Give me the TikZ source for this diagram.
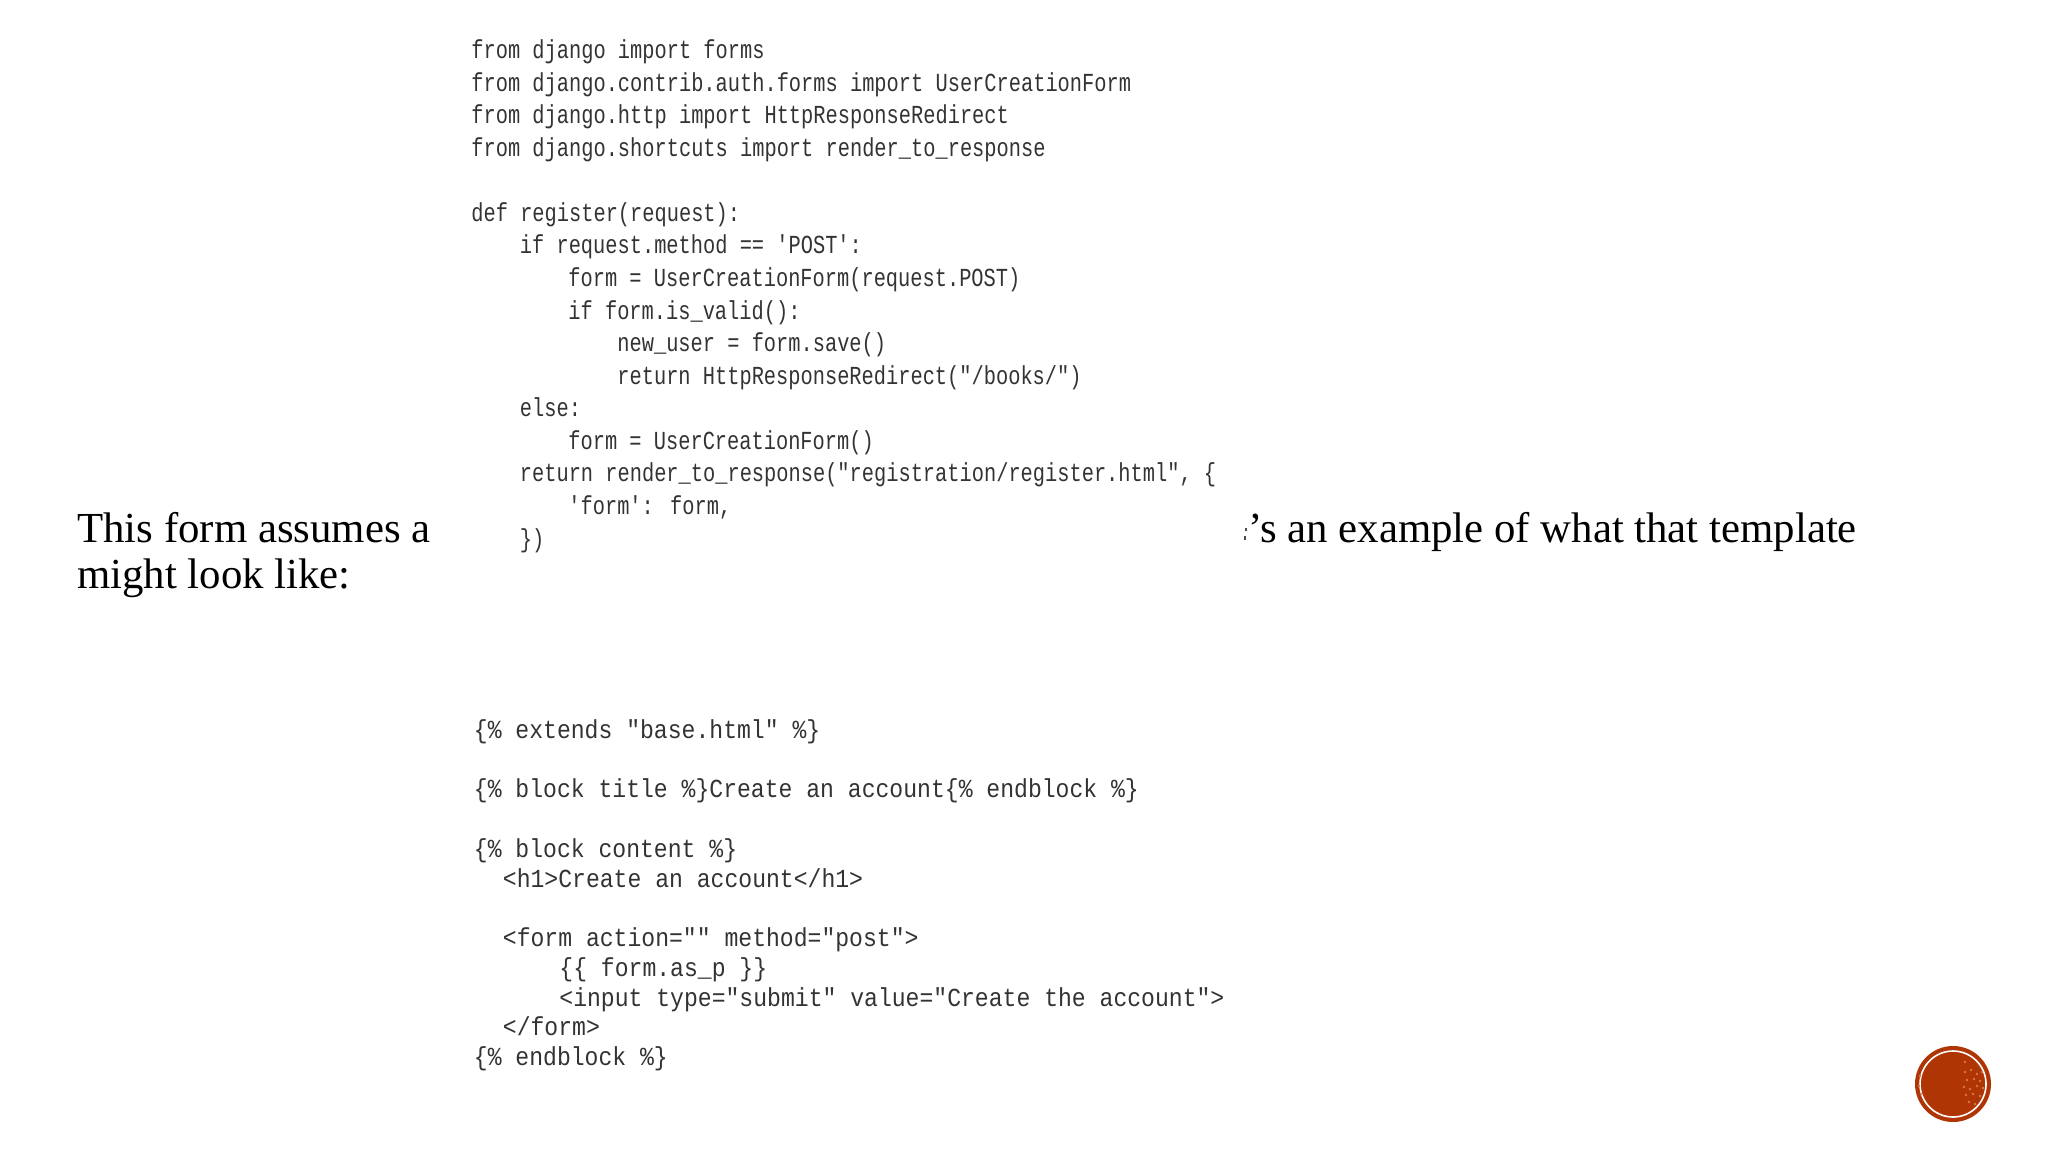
\documentclass[tikz,border=0pt]{standalone}
\usepackage{fontspec}
\setmainfont{Liberation Serif}
\newfontfamily\pyfont[FakeStretch=0.783]{Liberation Mono}
\newfontfamily\htmlfont[FakeStretch=0.888]{Liberation Mono}
\definecolor{codeGray}{HTML}{333333}
\definecolor{badgeRed}{HTML}{B03505}
\definecolor{badgeSpot}{HTML}{D9774A}

\begin{document}
\begin{tikzpicture}[x = 0.5pt, y = -0.5pt]
	\tikzstyle{bodyStyle} = [anchor = base west, inner sep = 0pt, font = \fontsize{21.4}{23.5}\selectfont]
	\tikzstyle{pyStyle} = [anchor = base west, inner sep = 0pt, text = codeGray, font = \pyfont\fontsize{13}{14}\selectfont]
	\tikzstyle{htmlStyle} = [anchor = base west, inner sep = 0pt, text = codeGray, font = \htmlfont\fontsize{13}{14}\selectfont]
	\useasboundingbox (0, 0) rectangle (2048, 1152);
	% text of the slide
	\node[bodyStyle] (body1) at (77, 542.5) {This form assumes a};
	\node[bodyStyle] (body2) at (77, 588.5) {might look like:};
	\node[bodyStyle] (body3) at (1248, 542.5) {’s an example of what that template};
	\fill[black!70] (1245, 528) rectangle (1247, 531);
	\fill[black!70] (1244, 536) rectangle (1246, 540);
	% view code
	\node[pyStyle] (py1) at (471, 58.5) {from django import forms};
	\node[pyStyle] (py2) at (471, 91.1) {from django.contrib.auth.forms import UserCreationForm};
	\node[pyStyle] (py3) at (471, 123.6) {from django.http import HttpResponseRedirect};
	\node[pyStyle] (py4) at (471, 156.2) {from django.shortcuts import render\_to\_response};
	\node[pyStyle] (py5) at (471, 221.4) {def register(request):};
	\node[pyStyle] (py6) at (519.5, 253.9) {if request.method == 'POST':};
	\node[pyStyle] (py7) at (568, 286.5) {form = UserCreationForm(request.POST)};
	\node[pyStyle] (py8) at (568, 319.1) {if form.is\_valid():};
	\node[pyStyle] (py9) at (617, 351.6) {new\_user = form.save()};
	\node[pyStyle] (py10) at (617, 384.2) {return HttpResponseRedirect("/books/")};
	\node[pyStyle] (py11) at (519.5, 416.8) {else:};
	\node[pyStyle] (py12) at (568, 449.3) {form = UserCreationForm()};
	\node[pyStyle] (py13) at (519.5, 481.9) {return render\_to\_response("registration/register.html", \{};
	\node[pyStyle] (py14) at (568, 514.5) {'form': form,};
	\node[pyStyle] (py15) at (519.5, 547.1) {\})};
	% template code
	\node[htmlStyle] (html1) at (473.5, 738) {\{\% extends "base.html" \%\}};
	\node[htmlStyle] (html2) at (473.5, 797.5) {\{\% block title \%\}Create an account\{\% endblock \%\}};
	\node[htmlStyle] (html3) at (473.5, 857) {\{\% block content \%\}};
	\node[htmlStyle] (html4) at (502.5, 887) {<h1>Create an account</h1>};
	\node[htmlStyle] (html5) at (502.5, 946.4) {<form action="" method="post">};
	\node[htmlStyle] (html6) at (559, 976) {\{\{ form.as\_p \}\}};
	\node[htmlStyle] (html7) at (559, 1006) {<input type="submit" value="Create the account">};
	\node[htmlStyle] (html8) at (502.5, 1035.4) {</form>};
	\node[htmlStyle] (html9) at (473.5, 1065) {\{\% endblock \%\}};
	% badge in the corner
	\node[circle, fill = badgeRed, minimum size = 38pt, inner sep = 0pt] (badge) at (1953, 1084) {};
	\draw[white, line width = 0.8pt] (badge.center) circle (16.5pt);
	\foreach \spotx/\spoty in {12/-12, 18/-14, 24/-10, 29/-12, 14/-4, 21/-5, 27/-3, 11/3, 17/5, 24/2, 30/4, 13/11, 20/10, 27/12, 16/18, 22/20, 12/-22, -33/-8, -34/2, -32/10} {
		\fill[badgeSpot] ([shift = {(\spotx, \spoty)}]badge.center) circle (0.7pt);
	}
\end{tikzpicture}
\end{document}
